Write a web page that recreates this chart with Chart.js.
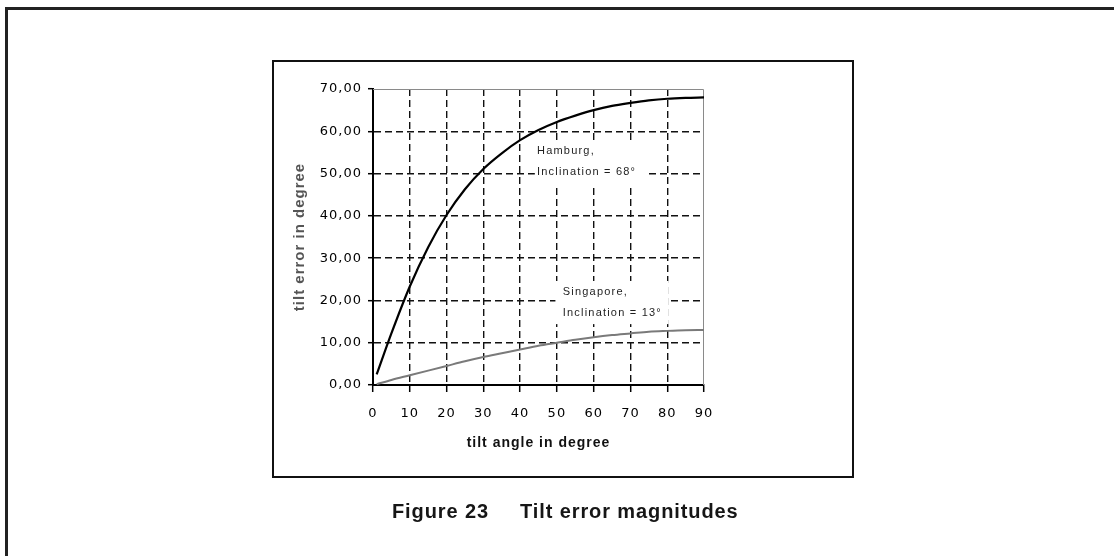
<!DOCTYPE html>
<html>
<head>
<meta charset="utf-8">
<title>Tilt error magnitudes</title>
<script src="https://cdn.jsdelivr.net/npm/chart.js@4.4.1/dist/chart.umd.min.js"></script>
<style>
  body { margin: 0; background: #fff; width: 1114px; height: 556px; overflow: hidden; position: relative; }
  #outer { position: absolute; left: 5px; top: 7px; width: 1200px; height: 600px; border-top: 3px solid #222; border-left: 3px solid #222; }
  #frame { position: absolute; left: 272px; top: 60px; width: 582px; height: 418px; box-sizing: border-box; border: 2px solid #111; }
  #chart { position: absolute; left: 0; top: 0; }
  .cap { position: absolute; top: 500px; font: bold 20px "Liberation Sans", Arial, sans-serif; letter-spacing: 0.9px; color: #161616; }
</style>
</head>
<body>
<div id="outer"></div>
<div id="frame"></div>
<canvas id="chart" width="1114" height="556"></canvas>
<div class="cap" style="left:392px">Figure 23</div>
<div class="cap" style="left:520px">Tilt error magnitudes</div>
<script>
// tilt angle (deg) and the error
const tiltAngles = [1, 5, 10, 15, 20, 25, 30, 35, 40, 45, 50, 55, 60, 65, 70, 75, 80, 85, 90];
const hamburgError = [2.5, 12.2, 23.3, 32.6, 40.2, 46.3, 51.1, 54.8, 57.9, 60.3, 62.2, 63.7, 65.0, 66.0, 66.7, 67.3, 67.7, 67.9, 68.0];
const singaporeError = [0.2, 1.2, 2.3, 3.4, 4.5, 5.6, 6.6, 7.5, 8.4, 9.3, 10.0, 10.7, 11.3, 11.8, 12.2, 12.6, 12.8, 12.95, 13.0];

// curve labels, placed in data units
const notes = [
    { lines: ["Hamburg,", "Inclination = 68°"], x: 44.6, y: [55.3, 50.3], box: [44.0, 74.0, 57.9, 46.6] },
    { lines: ["Singapore,", "Inclination = 13°"], x: 51.6, y: [22.0, 17.0], box: [49.6, 80.4, 24.6, 14.4] }
];

function pairs(ys) {
    return tiltAngles.map((a, i) => ({ x: a, y: ys[i] }));
}

const framePlugin = {
    id: "frame",
    beforeDraw(chart) {
        chart.ctx.letterSpacing = "1px";
    },
    beforeDatasetsDraw(chart) {
        const { ctx, chartArea: a, scales: { x, y } } = chart;
        ctx.save();
        ctx.strokeStyle = "#8a8a8a";
        ctx.lineWidth = 1;
        ctx.beginPath();
        ctx.moveTo(a.left, a.top + 0.5);
        ctx.lineTo(a.right - 0.5, a.top + 0.5);
        ctx.lineTo(a.right - 0.5, a.bottom);
        ctx.stroke();

        notes.forEach(n => {
            const l = x.getPixelForValue(n.box[0]), r = x.getPixelForValue(n.box[1]);
            const t = y.getPixelForValue(n.box[2]), b = y.getPixelForValue(n.box[3]);
            ctx.fillStyle = "#fff";
            ctx.fillRect(l, t, r - l, b - t);
            ctx.fillStyle = "#1e1e1e";
            ctx.font = '11px "Liberation Sans", Arial, sans-serif';
            ctx.letterSpacing = "1.2px";
            ctx.textBaseline = "middle";
            ctx.textAlign = "left";
            n.lines.forEach((s, i) => ctx.fillText(s, x.getPixelForValue(n.x), y.getPixelForValue(n.y[i])));
        });
        ctx.restore();
    }
};

function gridColor(edge) {
    return ctx => (ctx.tick && (ctx.tick.value === 0 || ctx.tick.value === edge)) ? "rgba(0,0,0,0)" : "#111";
}

const tickFont = { family: "DejaVu Sans", size: 13 };

new Chart(document.getElementById("chart").getContext("2d"), {
    type: "line",
    data: {
        datasets: [
            {
                label: "Hamburg",
                data: pairs(hamburgError),
                borderColor: "#000",
                borderWidth: 2.2,
                pointRadius: 0,
                cubicInterpolationMode: "monotone",
                fill: false
            },
            {
                label: "Singapore",
                data: pairs(singaporeError),
                borderColor: "#7a7a7a",
                borderWidth: 2,
                pointRadius: 0,
                cubicInterpolationMode: "monotone",
                fill: false
            }
        ]
    },
    options: {
        responsive: false,
        animation: false,
        devicePixelRatio: 1,
        layout: { padding: { left: 290, top: 89, right: 410, bottom: 101 } },
        plugins: { legend: { display: false }, tooltip: { enabled: false } },
        scales: {
            x: {
                type: "linear",
                min: 0,
                max: 90,
                afterFit: s => { s.height = 70; },
                ticks: { stepSize: 10, color: "#000", font: tickFont, padding: 14, maxRotation: 0 },
                grid: { color: gridColor(90), lineWidth: 1.4, tickColor: "#000", tickLength: 7, tickWidth: 1.5 },
                border: { color: "#000", width: 2, dash: [7, 4] },
                title: {
                    display: true, text: "tilt angle in degree", color: "#111",
                    font: { family: "Liberation Sans", size: 14, weight: "bold" },
                    padding: { top: 0, bottom: 3 }
                }
            },
            y: {
                min: 0,
                max: 70,
                afterFit: s => { s.width = 83; },
                ticks: {
                    stepSize: 10,
                    color: "#000",
                    font: tickFont,
                    padding: 6,
                    callback: v => v.toFixed(2).replace(".", ",")
                },
                grid: { color: gridColor(70), lineWidth: 1.4, tickColor: "#000", tickLength: 5, tickWidth: 1.5 },
                border: { color: "#000", width: 2, dash: [7, 4] },
                title: {
                    display: true, text: "tilt error in degree", color: "#555",
                    font: { family: "Liberation Sans", size: 15, weight: "bold" },
                    padding: { top: 1, bottom: 0 }
                }
            }
        }
    },
    plugins: [framePlugin]
});
</script>
</body>
</html>
